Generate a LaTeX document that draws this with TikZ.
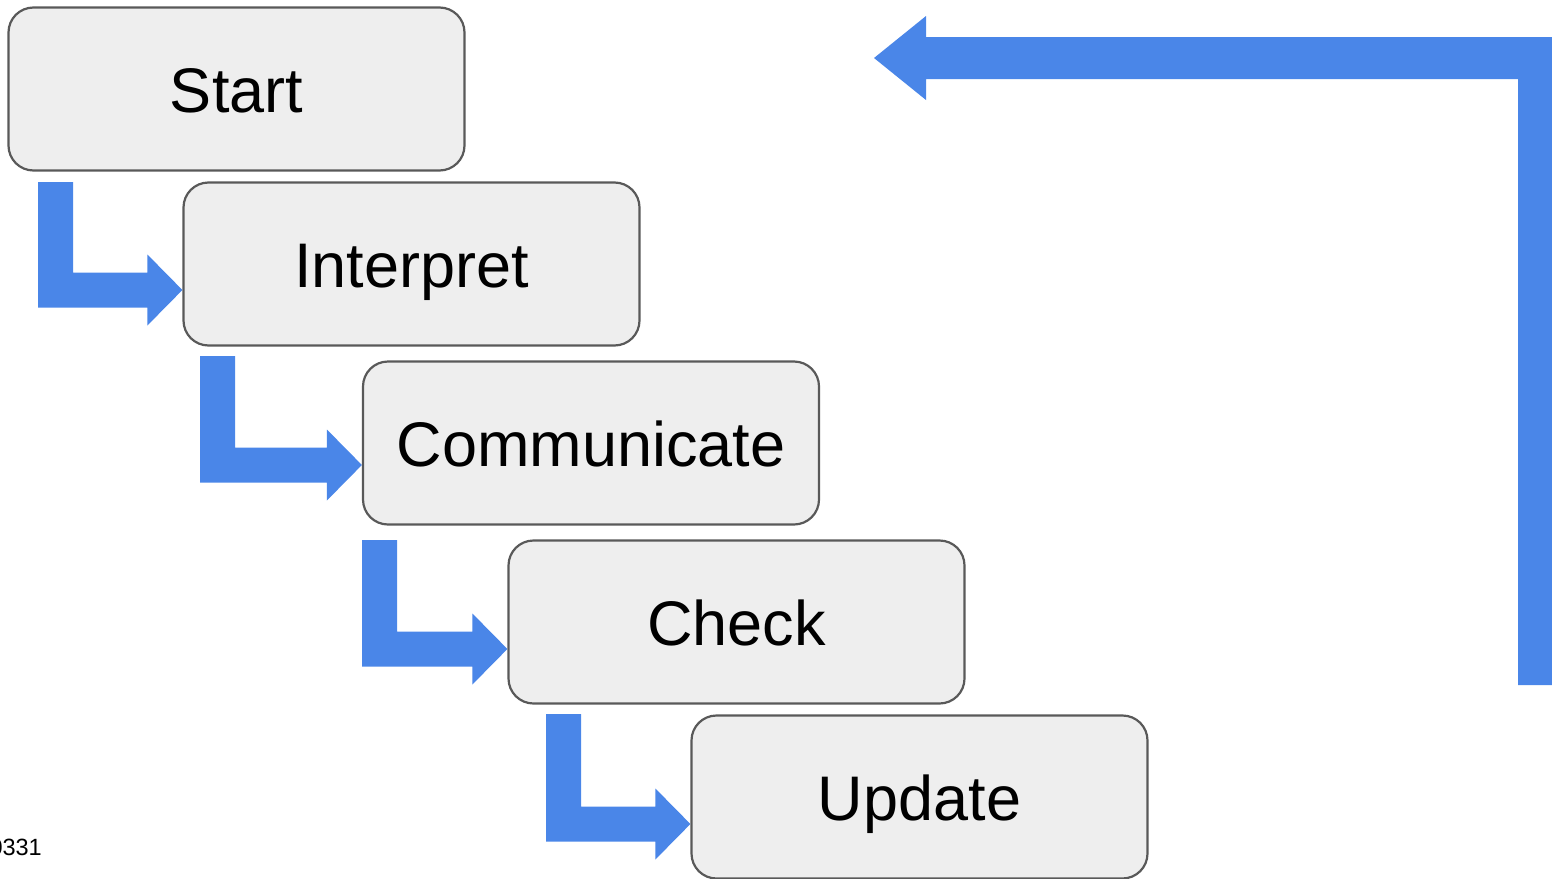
\documentclass[tikz,border=0pt]{standalone}
\usepackage{fontspec}
\setmainfont{Liberation Sans}
\usetikzlibrary{calc}
\definecolor{flowblue}{HTML}{4A86E8}
\definecolor{boxfill}{HTML}{EEEEEE}
\definecolor{boxline}{HTML}{595959}
\tikzset{
  stagebox/.style={draw=boxline, fill=boxfill, line width=2.2pt, rounded corners=25pt,
    minimum width=456pt, minimum height=163pt, inner sep=0pt,
    text height=46pt, text depth=0pt,
    font=\fontsize{63}{70}\selectfont},
  flowarrow/.style={fill=flowblue, draw=none}
}
% elbow arrow: #1 left x of the down bar, #2 top y of the bar, #3 y of the tip, #4 target node
\newcommand\elbowarrow[4]{%
  \path (#4.west |- 0,#3) coordinate (tip);
  \fill[flowarrow] (#1,#2) -- ++(35,0) -- (#1+35,#3-17.5)
    -- ($(tip)+(-35,-17.5)$) -- ($(tip)+(-35,-35.5)$) -- (tip)
    -- ($(tip)+(-35,35.5)$) -- ($(tip)+(-35,17.5)$) -- (#1,#3+17.5) -- cycle;
}
\begin{document}
\begin{tikzpicture}[x=1pt,y=-1pt]
  \useasboundingbox (0,0) rectangle (1552,878);

  \node[stagebox] (start)  at (236.5,89)  {Start};
  \node[stagebox] (interp) at (411.5,264) {Interpret};
  \node[stagebox] (comm)   at (591,443)   {Communicate};
  \node[stagebox] (check)  at (736.5,622) {Check};
  \node[stagebox] (update) at (919.5,797) {Update};

  \elbowarrow{38}{182}{290}{interp}
  \elbowarrow{200}{356}{465}{comm}
  \elbowarrow{362}{540}{649}{check}
  \elbowarrow{546}{714}{824}{update}

  % return arrow along the right side
  \coordinate (backtip) at (874,58);
  \fill[flowarrow] (1518,685) -- (1518,79) -- (926,79) -- (926,100) -- (backtip)
    -- (926,16) -- (926,37) -- (1552,37) -- (1552,685) -- cycle;

  \node[anchor=base east, inner sep=0pt, font=\fontsize{23.5}{26}\selectfont] (code) at (42,855) {0331};
\end{tikzpicture}
\end{document}
